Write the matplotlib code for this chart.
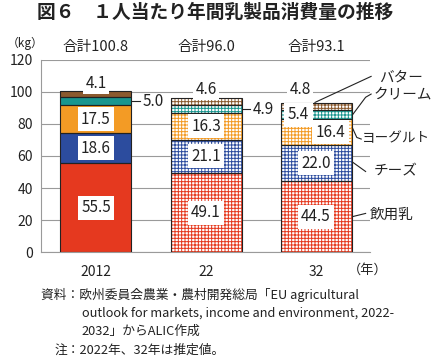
import matplotlib
matplotlib.use('Agg')
import matplotlib.pyplot as plt
import numpy as np

plt.rcParams['font.family'] = ['Noto Sans CJK JP', 'DejaVu Sans']
plt.rcParams['hatch.linewidth'] = 0.7

years = ['2012', '22', '32']
totals = ['合計100.8', '合計96.0', '合計93.1']
milk = [55.5, 49.1, 44.5]
cheese = [18.6, 21.1, 22.0]
yogurt = [17.5, 16.3, 16.4]
cream = [5.0, 4.9, 5.4]
butter = [4.1, 4.6, 4.8]
names = ['飲用乳', 'チーズ', 'ヨーグルト', 'クリーム', 'バター']
colors = ['#e5391f', '#2c4c9e', '#f39b25', '#18968f', '#8b5a2e']

series = [milk, cheese, yogurt, cream, butter]
x = np.arange(len(years))
w = 0.645

fig = plt.figure(figsize=(4.35, 3.59), dpi=100)
ax = fig.add_axes([0.0954, 0.2972, 0.7552, 0.537])

bottom = np.zeros(len(years))
for vals, c in zip(series, colors):
    vals = np.array(vals)
    # 2012 solid, estimates hatched
    ax.bar(x[0], vals[0], w, bottom=bottom[0], color=c, linewidth=0, zorder=2)
    ax.bar(x[1:], vals[1:], w, bottom=bottom[1:], facecolor='white',
           edgecolor=c, hatch='+++++', linewidth=0, zorder=2)
    ax.bar(x, vals, w, bottom=bottom, fill=False, edgecolor='#222222',
           linewidth=0.8, zorder=3)
    bottom += vals

box = dict(facecolor='white', edgecolor='none', pad=2.5)
tkw = dict(ha='center', va='center', fontsize=11, color='#222222', zorder=5)

# in-segment labels (milk, cheese, yogurt)
b = np.zeros(len(years))
for k, vals in enumerate(series[:3]):
    for i in range(len(years)):
        xo = 0.0
        if k == 2 and i == 2:
            xo = 0.13
        ax.text(x[i] + xo, b[i] + vals[i] / 2, f'{vals[i]:.1f}', bbox=box, **tkw)
    b += np.array(vals)

# cream labels
ax.plot([x[0] + w / 2, x[0] + w / 2 + 0.08], [b[0] + 2.5] * 2, color='#222222', lw=0.8)
ax.text(x[0] + w / 2 + 0.1, b[0] + 2.5, f'{cream[0]:.1f}', ha='left', va='center',
        fontsize=11, color='#222222')
ax.plot([x[1] + w / 2, x[1] + w / 2 + 0.08], [b[1] + 2.45] * 2, color='#222222', lw=0.8)
ax.text(x[1] + w / 2 + 0.1, b[1] + 2.45, f'{cream[1]:.1f}', ha='left', va='center',
        fontsize=11, color='#222222')
ax.text(x[2] - 0.16, b[2] + 2.7, f'{cream[2]:.1f}', bbox=box, **tkw)

# butter labels above bars
tops = b + np.array(cream) + np.array(butter)
offs = [4.6, 5.5, 8.0]
xoffs = [0.0, 0.0, -0.145]
for i in range(len(years)):
    ax.text(x[i] + xoffs[i], tops[i] + offs[i], f'{butter[i]:.1f}',
            bbox=dict(facecolor='white', edgecolor='none', pad=1.5), **tkw)

# totals
for i in range(len(years)):
    ax.text(x[i], 127.5, totals[i], ha='center', va='center', fontsize=10.5,
            color='#222222', clip_on=False)

# series names with leader lines
lk = dict(color='#222222', lw=0.8, clip_on=False)
ax.plot([1.99, 2.50], [93.3, 109.5], **lk)
ax.plot([2.33, 2.45, 2.50], [85.5, 96.5, 98.5], **lk)
ax.plot([2.33, 2.37, 2.41], [77.5, 71.5, 70.5], **lk)
ax.plot([2.33, 2.45], [56.2, 50.3], **lk)
ax.plot([2.33, 2.45], [22.2, 24.2], **lk)
lab_pos = [(2.49, 23.5), (2.52, 50.5), (2.42, 71.0), (2.52, 98.5), (2.57, 109.0)]
sizes = [10.5, 10.5, 9.8, 10.5, 10.5]
for n, (lx, ly), fs in zip(names, lab_pos, sizes):
    ax.text(lx, ly, n, ha='left', va='center', fontsize=fs, color='#222222',
            clip_on=False)

ax.set_xlim(-0.495, 2.49)
ax.set_ylim(0, 120)
ax.set_yticks(range(0, 121, 20))
ax.set_xticks(x)
ax.set_xticklabels(years)
ax.tick_params(length=0, labelsize=10, colors='#222222', pad=6)
ax.tick_params(axis='x', pad=9)
ax.yaxis.grid(True, color='#9a9a9a', lw=0.8)
ax.set_axisbelow(True)
for s in ['top', 'right']:
    ax.spines[s].set_visible(False)
for s in ['left', 'bottom']:
    ax.spines[s].set_color('#9a9a9a')
    ax.spines[s].set_linewidth(0.8)

fig.text(0.015, 0.878, '（kg）', fontsize=8.5, color='#222222', va='center')
fig.text(0.80, 0.248, '（年）', fontsize=9.5, color='#222222', va='center')

fig.text(0.494, 0.965, '図６　１人当たり年間乳製品消費量の推移', ha='center', va='center',
         fontsize=13.5, fontweight='bold', color='#222222')

fk = dict(fontsize=9.2, color='#222222', va='center')
fig.text(0.095, 0.178, '資料：欧州委員会農業・農村開発総局「EU agricultural', **fk)
fig.text(0.188, 0.128, 'outlook for markets, income and environment, 2022-', **fk)
fig.text(0.188, 0.078, '2032」からALIC作成', **fk)
fig.text(0.125, 0.025, '注：2022年、32年は推定値。', **fk)

fig.savefig('out.png', dpi=100)
